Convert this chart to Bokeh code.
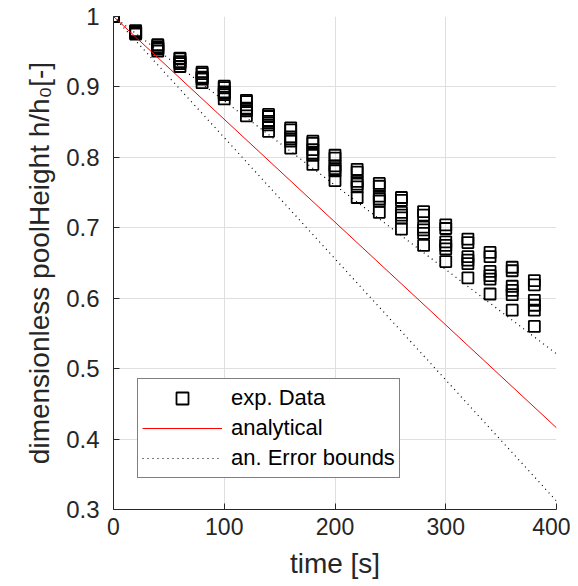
from bokeh.plotting import figure
from bokeh.models import Range1d, FixedTicker, Legend, LegendItem, ColumnDataSource
from bokeh.embed import file_html
from bokeh.resources import INLINE

# ---- data ----
t_exp = [0, 20, 40, 60, 80, 100, 120, 140, 160, 180, 200, 220, 240, 260, 280, 300, 320, 340, 360, 380]
run_a = [1.000, 0.980, 0.960, 0.941, 0.921, 0.901, 0.881, 0.861, 0.842, 0.823, 0.803, 0.783, 0.763, 0.743, 0.723, 0.704, 0.684, 0.665, 0.644, 0.625]
run_b = [1.000, 0.979, 0.959, 0.940, 0.919, 0.899, 0.879, 0.858, 0.839, 0.820, 0.799, 0.779, 0.759, 0.739, 0.718, 0.699, 0.679, 0.659, 0.639, 0.619]
run_c = [1.000, 0.978, 0.956, 0.936, 0.914, 0.893, 0.870, 0.851, 0.829, 0.811, 0.788, 0.766, 0.745, 0.722, 0.701, 0.680, 0.659, 0.638, 0.617, 0.597]
run_d = [1.000, 0.977, 0.955, 0.935, 0.913, 0.891, 0.868, 0.849, 0.826, 0.806, 0.784, 0.762, 0.741, 0.718, 0.697, 0.675, 0.654, 0.632, 0.611, 0.590]
run_e = [1.000, 0.977, 0.954, 0.933, 0.911, 0.889, 0.866, 0.846, 0.823, 0.803, 0.781, 0.758, 0.738, 0.714, 0.692, 0.670, 0.649, 0.627, 0.605, 0.583]
run_f = [1.000, 0.975, 0.951, 0.929, 0.906, 0.883, 0.859, 0.837, 0.813, 0.790, 0.767, 0.743, 0.722, 0.698, 0.675, 0.652, 0.629, 0.606, 0.583, 0.560]

t_line = [0, 400]
analytical = [1.0, 0.416]
bound_upper = [1.0, 0.521]
bound_lower = [1.0, 0.312]

x_ticks = [0, 100, 200, 300, 400]
y_ticks = [0.3, 0.4, 0.5, 0.6, 0.7, 0.8, 0.9, 1.0]
y_tick_labels = ["0.3", "0.4", "0.5", "0.6", "0.7", "0.8", "0.9", "1"]

runs = [run_a, run_b, run_c, run_d, run_e, run_f]
exp_src = ColumnDataSource(dict(
    t=[tv for r in runs for tv in t_exp],
    h=[hv for r in runs for hv in r],
))

FONT = "Liberation Sans"
DARK = "#262626"

p = figure(frame_width=443, frame_height=493,
           x_range=Range1d(0, 400), y_range=Range1d(0.3, 1.0),
           output_backend="svg", toolbar_location=None,
           min_border_left=113, min_border_top=16, min_border_right=14, min_border_bottom=4,
           background_fill_color="white", border_fill_color="white",
           outline_line_color=None)

p.grid.grid_line_color = "#dfdfdf"
p.grid.grid_line_width = 1

p.xaxis.ticker = FixedTicker(ticks=x_ticks)
p.yaxis.ticker = FixedTicker(ticks=y_ticks)
p.yaxis.major_label_overrides = {v: s for v, s in zip(y_ticks, y_tick_labels)}

for ax in (p.xaxis[0], p.yaxis[0]):
    ax.axis_line_color = DARK
    ax.axis_line_width = 1
    ax.major_tick_line_color = DARK
    ax.major_tick_in = 6
    ax.major_tick_out = 0
    ax.minor_tick_line_color = None
    ax.major_label_text_font = FONT
    ax.major_label_text_font_size = "23px"
    ax.major_label_text_color = DARK
    ax.axis_label_text_font = FONT
    ax.axis_label_text_font_size = "28px"
    ax.axis_label_text_font_style = "normal"
    ax.axis_label_text_color = DARK

p.yaxis.major_label_text_font_size = "24px"
p.xaxis.axis_label = "time [s]"
p.yaxis.axis_label = "dimensionless poolHeight h/h\u2080[-]"
p.xaxis.major_label_standoff = 8
p.xaxis.axis_label_standoff = 10
p.yaxis.major_label_standoff = 14
p.yaxis.axis_label_standoff = 8

r_exp = p.scatter("t", "h", source=exp_src, marker="square", size=11,
                  fill_color=None, line_color="black", line_width=1.8)
r_an = p.line(t_line, analytical, line_color="#ff0000", line_width=1.0)
r_up = p.line(t_line, bound_upper, line_color="black", line_width=1.2, line_dash="1 4")
r_lo = p.line(t_line, bound_lower, line_color="black", line_width=1.2, line_dash="1 4")

legend = Legend(items=[
    LegendItem(label="exp. Data", renderers=[r_exp]),
    LegendItem(label="analytical", renderers=[r_an]),
    LegendItem(label="an. Error bounds", renderers=[r_up]),
], location=(24, 31))
legend.label_text_font = FONT
legend.label_text_font_size = "22px"
legend.label_text_color = "black"
legend.glyph_width = 80
legend.glyph_height = 30
legend.label_height = 30
legend.spacing = 0
legend.padding = 4
legend.margin = 0
legend.label_standoff = 9
legend.border_line_color = "black"
legend.border_line_width = 1
legend.background_fill_color = "white"
legend.background_fill_alpha = 1.0
p.add_layout(legend, "center")

open("out.html", "w").write(file_html(p, INLINE))
